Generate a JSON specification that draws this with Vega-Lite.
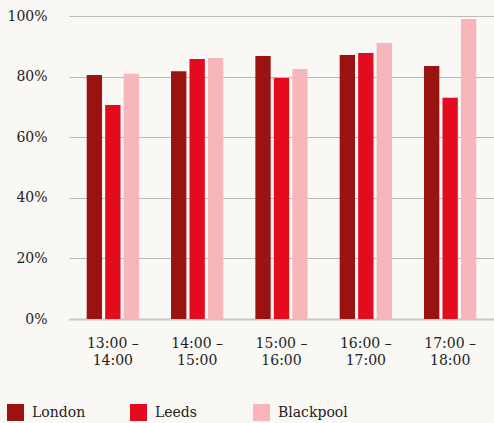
{
  "$schema": "https://vega.github.io/schema/vega-lite/v6.json",
  "autosize": "none",
  "width": 425,
  "height": 303,
  "padding": {"left": 69, "top": 16, "right": 0, "bottom": 104},
  "background": "#f9f8f4",
  "config": {
    "font": "DejaVu Serif",
    "view": {"stroke": null},
    "axis": {"labelFont": "DejaVu Serif", "labelColor": "#222222"},
    "legend": {"labelFont": "DejaVu Serif"}
  },
  "data": {
    "values": [
      {"time": "13:00 – 14:00", "city": "London", "value": 0.805},
      {"time": "13:00 – 14:00", "city": "Leeds", "value": 0.706},
      {"time": "13:00 – 14:00", "city": "Blackpool", "value": 0.809},
      {"time": "14:00 – 15:00", "city": "London", "value": 0.818},
      {"time": "14:00 – 15:00", "city": "Leeds", "value": 0.858},
      {"time": "14:00 – 15:00", "city": "Blackpool", "value": 0.861},
      {"time": "15:00 – 16:00", "city": "London", "value": 0.868},
      {"time": "15:00 – 16:00", "city": "Leeds", "value": 0.795},
      {"time": "15:00 – 16:00", "city": "Blackpool", "value": 0.825},
      {"time": "16:00 – 17:00", "city": "London", "value": 0.871},
      {"time": "16:00 – 17:00", "city": "Leeds", "value": 0.878},
      {"time": "16:00 – 17:00", "city": "Blackpool", "value": 0.911},
      {"time": "17:00 – 18:00", "city": "London", "value": 0.835},
      {"time": "17:00 – 18:00", "city": "Leeds", "value": 0.730},
      {"time": "17:00 – 18:00", "city": "Blackpool", "value": 0.990}
    ]
  },
  "mark": {"type": "bar"},
  "encoding": {
    "x": {
      "field": "time",
      "type": "nominal",
      "sort": null,
      "scale": {"paddingInner": 0.38, "paddingOuter": 0.21},
      "axis": {
        "title": null,
        "labelAngle": 0,
        "ticks": false,
        "domain": true,
        "domainColor": "#c8c8c8",
        "domainWidth": 2,
        "labelPadding": 17,
        "labelFontSize": 14,
        "labelLineHeight": 17,
        "labelExpr": "[slice(datum.label, 0, 7), slice(datum.label, 8)]"
      }
    },
    "xOffset": {
      "field": "city",
      "type": "nominal",
      "sort": ["London", "Leeds", "Blackpool"],
      "scale": {"paddingInner": 0.17}
    },
    "y": {
      "field": "value",
      "type": "quantitative",
      "scale": {"domain": [0, 1], "nice": false},
      "axis": {
        "title": null,
        "values": [0, 0.2, 0.4, 0.6, 0.8, 1],
        "format": ".0%",
        "domain": false,
        "ticks": false,
        "labelPadding": 22,
        "labelFontSize": 14,
        "gridColor": "#b9b9b9",
        "gridWidth": 1
      }
    },
    "color": {
      "field": "city",
      "type": "nominal",
      "sort": ["London", "Leeds", "Blackpool"],
      "scale": {
        "domain": ["London", "Leeds", "Blackpool"],
        "range": ["#9b1310", "#e30b1d", "#f7b6ba"]
      },
      "legend": {
        "title": null,
        "orient": "none",
        "legendX": -62,
        "legendY": 388,
        "direction": "horizontal",
        "columns": 3,
        "gridAlign": "all",
        "columnPadding": 28,
        "symbolType": "square",
        "symbolSize": 289,
        "symbolStrokeWidth": 0,
        "symbolOpacity": 1,
        "labelFontSize": 14,
        "labelColor": "#222222",
        "labelOffset": 8
      }
    }
  }
}
